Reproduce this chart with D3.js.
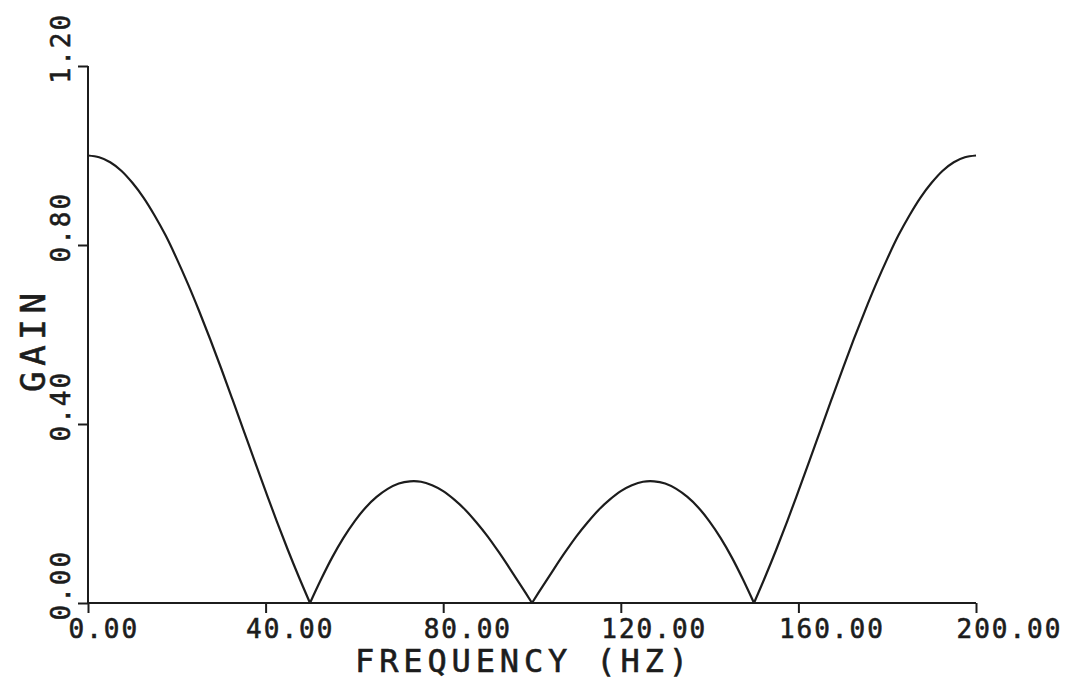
<!DOCTYPE html>
<html>
<head>
<meta charset="utf-8">
<script src="https://cdn.jsdelivr.net/npm/d3@7"></script>
<style>
  body { margin: 0; background: #fff; }
  svg { display: block; }
  .axis path, .axis line { stroke: #1c1c1c; stroke-width: 2; }
  .axis text { font-family: "DejaVu Sans Mono", monospace; font-size: 26px; fill: #1c1c1c; stroke: #1c1c1c; stroke-width: 0.6; letter-spacing: 2px; }
  .title { font-family: "DejaVu Sans Mono", monospace; fill: #1c1c1c; stroke: #1c1c1c; stroke-width: 0.6; }
</style>
</head>
<body>
<div id="chart"></div>
<script>
// values (gain vs frequency, every 2.5 Hz)
const frequency = [0, 2.5, 5, 7.5, 10, 12.5, 15, 17.5, 20, 22.5, 25, 27.5, 30, 32.5, 35, 37.5, 40, 42.5, 45, 47.5,
  50, 52.5, 55, 57.5, 60, 62.5, 65, 67.5, 70, 72.5, 75, 77.5, 80, 82.5, 85, 87.5, 90, 92.5, 95, 97.5,
  100, 102.5, 105, 107.5, 110, 112.5, 115, 117.5, 120, 122.5, 125, 127.5, 130, 132.5, 135, 137.5, 140, 142.5, 145, 147.5,
  150, 152.5, 155, 157.5, 160, 162.5, 165, 167.5, 170, 172.5, 175, 177.5, 180, 182.5, 185, 187.5, 190, 192.5, 195, 197.5, 200];
const gain = [1.000, 0.996, 0.985, 0.966, 0.939, 0.906, 0.866, 0.821, 0.769, 0.713, 0.653, 0.590, 0.524, 0.456, 0.387, 0.318, 0.250, 0.183, 0.119, 0.058,
  0.000, 0.053, 0.102, 0.145, 0.182, 0.213, 0.237, 0.255, 0.267, 0.272, 0.271, 0.263, 0.250, 0.231, 0.208, 0.180, 0.149, 0.114, 0.077, 0.039,
  0.000, 0.039, 0.077, 0.114, 0.149, 0.180, 0.208, 0.231, 0.250, 0.263, 0.271, 0.272, 0.267, 0.255, 0.237, 0.213, 0.182, 0.145, 0.102, 0.053,
  0.000, 0.058, 0.119, 0.183, 0.250, 0.318, 0.387, 0.456, 0.524, 0.590, 0.653, 0.713, 0.769, 0.821, 0.866, 0.906, 0.939, 0.966, 0.985, 0.996, 1.000];
const xTicks = [0, 40, 80, 120, 160, 200];
const yTicks = [0, 0.4, 0.8, 1.2];

const width = 1073, height = 681;
const margin = {top: 66, right: 97, bottom: 78, left: 88};
const innerW = width - margin.left - margin.right;
const innerH = height - margin.top - margin.bottom;

const svg = d3.select('#chart').append('svg')
  .attr('width', width)
  .attr('height', height);

const g = svg.append('g')
  .attr('transform', 'translate(' + margin.left + ',' + margin.top + ')');

const x = d3.scaleLinear().domain([0, 200]).range([0, innerW]);
const y = d3.scaleLinear().domain([0, 1.2]).range([innerH, 0]);

// x axis, labels start left of the tick
const xAxis = g.append('g')
  .attr('class', 'axis')
  .attr('transform', 'translate(0,' + innerH + ')')
  .call(d3.axisBottom(x).tickValues(xTicks).tickSize(10).tickSizeOuter(0).tickFormat(d3.format('.2f')));
xAxis.selectAll('text')
  .attr('text-anchor', 'start')
  .attr('x', -20)
  .attr('y', 35)
  .attr('dy', null);

// y axis, labels rotated like the plotter output
const yAxis = g.append('g')
  .attr('class', 'axis')
  .call(d3.axisLeft(y).tickValues(yTicks).tickSize(10).tickSizeOuter(0).tickFormat(d3.format('.2f')));
yAxis.selectAll('text')
  .attr('text-anchor', 'start')
  .attr('x', null)
  .attr('dy', null)
  .attr('transform', 'translate(-18,17) rotate(-90)');
yAxis.selectAll('.domain').attr('d', 'M0,0V' + innerH);
xAxis.selectAll('.domain').attr('d', 'M0,0H' + innerW);

// split the response into lobes at the nulls so the cusps stay sharp
const pts = frequency.map((f, i) => ({f: f, v: gain[i]}));
const lobes = [];
let cur = [];
pts.forEach((p, i) => {
  cur.push(p);
  if (p.v === 0 && i > 0) {
    lobes.push(cur);
    cur = [p];
  }
});
if (cur.length > 1) lobes.push(cur);

const line = d3.line()
  .x(d => x(d.f))
  .y(d => y(d.v))
  .curve(d3.curveCatmullRom);

g.selectAll('path.lobe')
  .data(lobes)
  .enter()
  .append('path')
  .attr('class', 'lobe')
  .attr('d', line)
  .attr('fill', 'none')
  .attr('stroke', '#1c1c1c')
  .attr('stroke-width', 2.2);

svg.append('text')
  .attr('class', 'title')
  .attr('x', 355)
  .attr('y', 672)
  .attr('font-size', 32)
  .attr('textLength', 333)
  .attr('lengthAdjust', 'spacing')
  .text('FREQUENCY (HZ)');

svg.append('text')
  .attr('class', 'title')
  .attr('transform', 'translate(45,392) rotate(-90)')
  .attr('font-size', 34)
  .attr('textLength', 99)
  .attr('lengthAdjust', 'spacing')
  .text('GAIN');
</script>
</body>
</html>
